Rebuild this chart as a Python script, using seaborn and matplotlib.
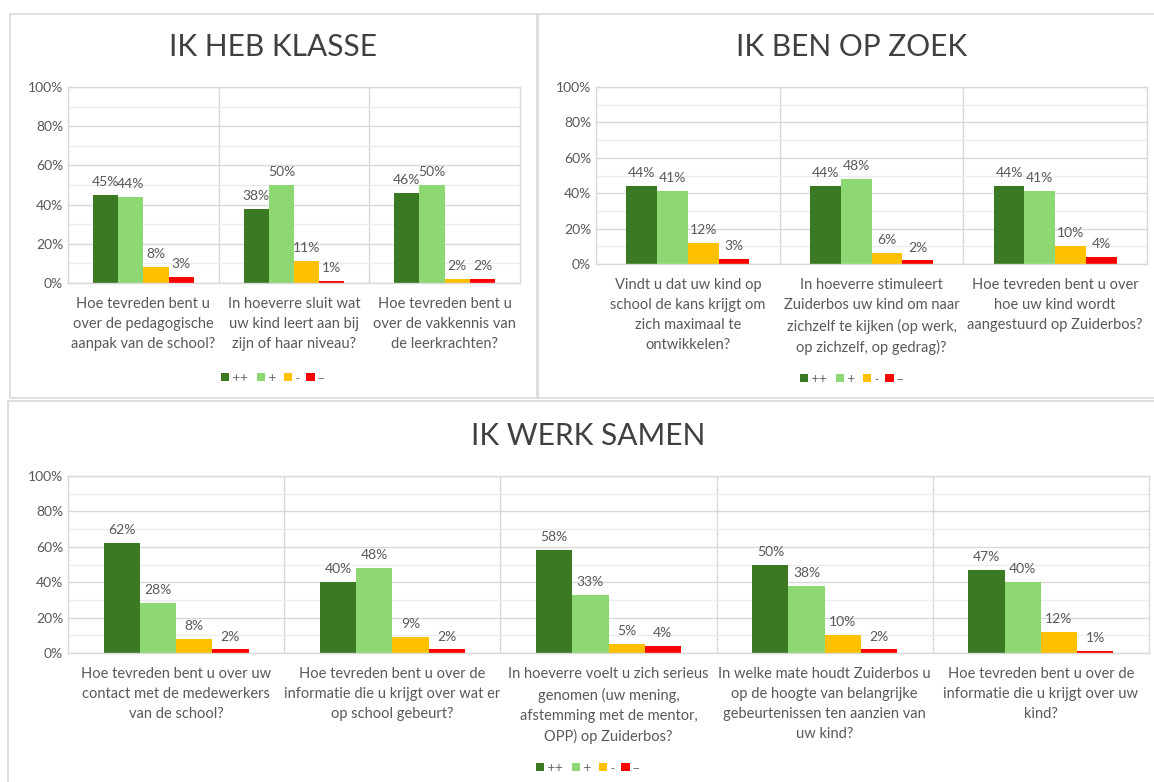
import matplotlib
matplotlib.use("Agg")
import matplotlib.pyplot as plt
from matplotlib.patches import Rectangle, Patch
from matplotlib.ticker import MultipleLocator, FuncFormatter
import seaborn as sns
import pandas as pd

sns.set_theme(style="white")
plt.rcParams['font.family'] = ['Lato', 'DejaVu Sans']

scores = ["++", "+", "-", "--"]
colors = ["#3B7A22", "#8ED873", "#FFC000", "#FF0000"]

title_klasse = "IK HEB KLASSE"
vragen_klasse = [
    "Hoe tevreden bent u\nover de pedagogische\naanpak van de school?",
    "In hoeverre sluit wat\nuw kind leert aan bij\nzijn of haar niveau?",
    "Hoe tevreden bent u\nover de vakkennis van\nde leerkrachten?",
]
klasse_pp = [45, 38, 46]
klasse_p = [44, 50, 50]
klasse_m = [8, 11, 2]
klasse_mm = [3, 1, 2]

title_zoek = "IK BEN OP ZOEK"
vragen_zoek = [
    "Vindt u dat uw kind op\nschool de kans krijgt om\nzich maximaal te\nontwikkelen?",
    "In hoeverre stimuleert\nZuiderbos uw kind om naar\nzichzelf te kijken (op werk,\nop zichzelf, op gedrag)?",
    "Hoe tevreden bent u over\nhoe uw kind wordt\naangestuurd op Zuiderbos?",
]
zoek_pp = [44, 44, 44]
zoek_p = [41, 48, 41]
zoek_m = [12, 6, 10]
zoek_mm = [3, 2, 4]

title_samen = "IK WERK SAMEN"
vragen_samen = [
    "Hoe tevreden bent u over uw\ncontact met de medewerkers\nvan de school?",
    "Hoe tevreden bent u over de\ninformatie die u krijgt over wat er\nop school gebeurt?",
    "In hoeverre voelt u zich serieus\ngenomen (uw mening,\nafstemming met de mentor,\nOPP) op Zuiderbos?",
    "In welke mate houdt Zuiderbos u\nop de hoogte van belangrijke\ngebeurtenissen ten aanzien van\nuw kind?",
    "Hoe tevreden bent u over de\ninformatie die u krijgt over uw\nkind?",
]
samen_pp = [62, 40, 58, 50, 47]
samen_p = [28, 48, 33, 38, 40]
samen_m = [8, 9, 5, 10, 12]
samen_mm = [2, 2, 4, 2, 1]

W, H = 1154, 782
fig = plt.figure(figsize=(W / 100, H / 100), dpi=100)
fig.patch.set_facecolor("white")

TXT = "#595959"
GRID = "#d9d9d9"
MINOR = "#ececec"


def fx(px):
    return px / W


def fy(py):
    return 1 - py / H


def make_df(vragen, pp, p, m, mm):
    rows = []
    for i, q in enumerate(vragen):
        for s, v in zip(scores, [pp[i], p[i], m[i], mm[i]]):
            rows.append({"vraag": q, "score": s, "pct": v})
    return pd.DataFrame(rows)


def panel(rect_px, vragen, pp, p, m, mm, title, title_xy, legend_xy):
    l, t, r, b = rect_px
    ax = fig.add_axes([fx(l), fy(b), fx(r - l), (b - t) / H])
    df = make_df(vragen, pp, p, m, mm)
    sns.barplot(data=df, x="vraag", y="pct", hue="score", hue_order=scores,
                palette=colors, width=0.67, ax=ax, legend=False,
                saturation=1, edgecolor="none")
    n = len(vragen)
    ax.set_xlim(-0.5, n - 0.5)
    ax.set_ylim(0, 100)
    ax.yaxis.set_major_locator(MultipleLocator(20))
    ax.yaxis.set_minor_locator(MultipleLocator(10))
    ax.yaxis.set_major_formatter(FuncFormatter(lambda v, _: f"{v:.0f}%"))
    ax.grid(axis="y", which="major", color=GRID, lw=1.0)
    ax.grid(axis="y", which="minor", color=MINOR, lw=1.0)
    ax.set_axisbelow(True)
    for k in range(1, n):
        ax.axvline(k - 0.5, color=GRID, lw=1.0, zorder=0)
    for sp in ax.spines.values():
        sp.set_color(GRID)
        sp.set_linewidth(1.0)
        sp.set_visible(True)
    ax.tick_params(axis="both", length=0, colors=TXT, labelsize=10)
    ax.tick_params(axis="y", which="minor", length=0)
    ax.tick_params(axis="x", pad=10)
    for lab in ax.get_xticklabels():
        lab.set_fontsize(10.5)
        lab.set_linespacing(1.55)
        lab.set_color(TXT)
        lab.set_verticalalignment("top")
    ax.set_xlabel("")
    ax.set_ylabel("")
    for cont in ax.containers:
        ax.bar_label(cont, labels=[f"{v:.0f}%" for v in cont.datavalues],
                     padding=5, fontsize=10, color=TXT)
    fig.text(fx(title_xy[0]), fy(title_xy[1]), title, ha="center", va="center",
             fontsize=21.5, color="#404040")
    handles = [Patch(facecolor=c, edgecolor="none", label=s) for c, s in zip(colors, scores)]
    fig.legend(handles=handles, loc="center", bbox_to_anchor=(fx(legend_xy[0]), fy(legend_xy[1])),
               ncol=4, frameon=False, handlelength=0.8, handleheight=0.8,
               handletextpad=0.3, columnspacing=0.7, labelcolor=TXT,
               prop={"family": "DejaVu Sans", "size": 7.5})
    return ax


# panel frames
for (x0, y0, x1, y1) in [(10, 14, 537, 398), (538, 14, 1160, 398), (8, 401, 1160, 790)]:
    fig.add_artist(Rectangle((fx(x0), fy(y1)), fx(x1 - x0), (y1 - y0) / H,
                             transform=fig.transFigure, fill=False,
                             edgecolor="#d9d9d9", lw=1.2))

panel((68, 87, 520, 283), vragen_klasse, klasse_pp, klasse_p, klasse_m, klasse_mm,
      title_klasse, (273, 47), (273, 378))
panel((596, 87, 1147, 264), vragen_zoek, zoek_pp, zoek_p, zoek_m, zoek_mm,
      title_zoek, (852, 47), (852, 379))
panel((68, 476, 1149, 653), vragen_samen, samen_pp, samen_p, samen_m, samen_mm,
      title_samen, (588, 436), (588, 768))

fig.savefig("out.png", dpi=100, facecolor="white")
